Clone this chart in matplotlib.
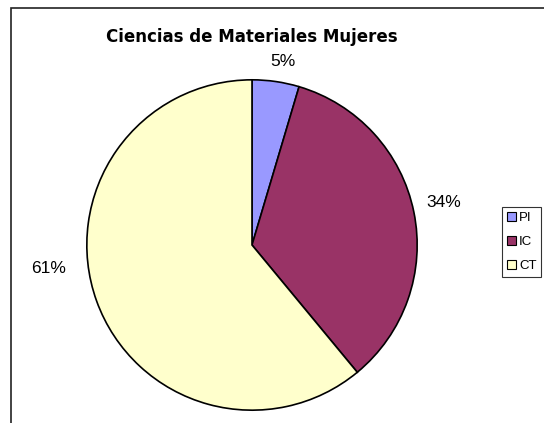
import matplotlib.pyplot as plt
from matplotlib.patches import Rectangle, Patch

categories = ['PI', 'IC', 'CT']
values = [4.6, 34.4, 61.0]
pct_labels = ['5%', '34%', '61%']
colors = ['#9999FF', '#993366', '#FFFFCC']

# label positions in pie units (radius = 1)
label_pos = [(0.19, 1.11), (1.16, 0.26), (-1.23, -0.14)]

plt.rcParams['font.family'] = ['Liberation Sans', 'DejaVu Sans']

fig = plt.figure(figsize=(5.44, 4.23), dpi=100)

# outer chart border (only left/top visible)
fig.patches.append(Rectangle((11 / 544, -0.1), 1.2, (423 - 8) / 423 + 0.1,
                             transform=fig.transFigure, fill=False,
                             edgecolor='#222222', linewidth=1.2))

ax = fig.add_axes([86 / 544, 12 / 423, 332 / 544, 332 / 423])
wedges, _ = ax.pie(values, colors=colors, startangle=90, counterclock=False,
                   radius=1, wedgeprops=dict(edgecolor='black', linewidth=1.2))
ax.set_xlim(-1.005, 1.005)
ax.set_ylim(-1.005, 1.005)
ax.set_aspect('equal')
ax.axis('off')

for (x, y), t in zip(label_pos, pct_labels):
    ax.text(x, y, t, ha='center', va='center', fontsize=12.5, clip_on=False)

fig.text(252 / 544, 1 - 37 / 423, 'Ciencias de Materiales Mujeres',
         ha='center', va='center', fontsize=12, fontweight='bold',
         family='DejaVu Sans')

handles = [Patch(facecolor=c, edgecolor='black', linewidth=0.8) for c in colors]
leg = fig.legend(handles, categories, loc='upper left',
                 bbox_to_anchor=(502 / 544, 1 - 207 / 423),
                 fontsize=9.5, frameon=True, fancybox=False,
                 handlelength=0.7, handleheight=0.7, handletextpad=0.25,
                 borderpad=0.35, labelspacing=0.9, borderaxespad=0)
leg.get_frame().set_edgecolor('black')
leg.get_frame().set_linewidth(0.8)

fig.savefig('out.png', dpi=100)
